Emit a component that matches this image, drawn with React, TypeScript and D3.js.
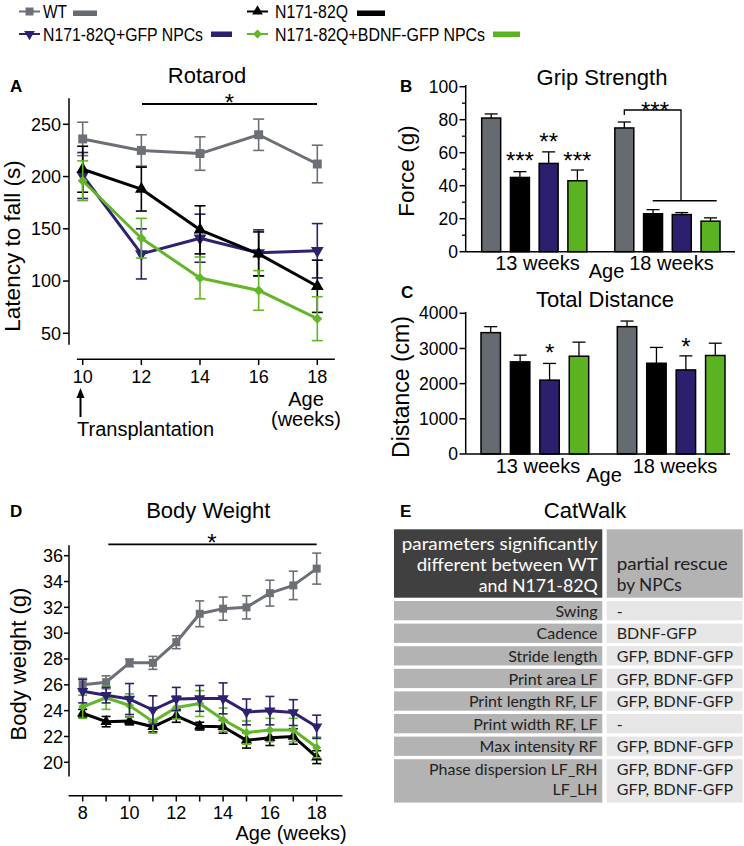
import * as d3 from 'd3';
import React from 'react';

const FONT = '"Liberation Sans", Arial, sans-serif';
const TABLE_FONT = 'Lato, "Open Sans", sans-serif';

// groups / series
const seriesNames = ['WT', 'N171-82Q', 'N171-82Q+GFP NPCs', 'N171-82Q+BDNF-GFP NPCs'];
const lineColors = ['#6c7076', '#000000', '#2d2170', '#63b52a'];
const barColors = ['#666b71', '#000000', '#2c1f6e', '#5cb321'];
const markers = ['square', 'triangle', 'triangleDown', 'diamond'];

// A - Rotarod (latency to fall, s)
const rotarodWeeks = [10, 12, 14, 16, 18];
const rotarodWT = [236, 225, 222, 240, 212];
const rotarodWTErr = [16, 15, 16, 15, 18];
const rotarodN171 = [207, 188, 149, 126, 95];
const rotarodN171Err = [22, 21, 23, 21, 25];
const rotarodGFP = [201, 126, 141, 127, 129];
const rotarodGFPErr = [22, 24, 23, 22, 26];
const rotarodBDNF = [196, 141, 103, 91, 64];
const rotarodBDNFErr = [19, 19, 20, 19, 21];
const rotarodYTicks = [50, 100, 150, 200, 250];

// B - Grip strength (g)
const ageGroups = ['13 weeks', '18 weeks'];
const gripWT = [81, 75];
const gripWTErr = [2.5, 3.6];
const gripN171 = [45, 23];
const gripN171Err = [3.5, 2.5];
const gripGFP = [53.5, 22.5];
const gripGFPErr = [7, 1.2];
const gripBDNF = [43, 18.5];
const gripBDNFErr = [6.5, 2];
const gripYTicks = [0, 20, 40, 60, 80, 100];
const gripStars13 = ['', '***', '**', '***'];

// C - Total distance (cm)
const distWT = [3450, 3620];
const distWTErr = [170, 160];
const distN171 = [2620, 2580];
const distN171Err = [190, 450];
const distGFP = [2100, 2390];
const distGFPErr = [475, 400];
const distBDNF = [2780, 2800];
const distBDNFErr = [400, 350];
const distYTicks = [0, 1000, 2000, 3000, 4000];

// D - Body weight (g)
const weightWeeks = [8, 9, 10, 11, 12, 13, 14, 15, 16, 17, 18];
const weightWT = [26.0, 26.2, 27.7, 27.7, 29.3, 31.5, 31.9, 32.0, 33.1, 33.7, 35.0];
const weightWTErr = [0.5, 0.5, 0.3, 0.5, 0.5, 1.0, 0.9, 0.9, 1.0, 1.1, 1.2];
const weightN171 = [23.8, 23.15, 23.2, 22.75, 23.6, 22.8, 22.75, 21.7, 21.9, 22.0, 20.4];
const weightN171Err = [0.3, 0.4, 0.3, 0.4, 0.5, 0.3, 0.5, 0.6, 0.6, 0.6, 0.5];
const weightGFP = [25.5, 25.2, 24.9, 24.05, 24.9, 24.95, 24.95, 23.9, 24.0, 23.85, 22.75];
const weightGFPErr = [0.9, 0.6, 1.2, 1.1, 0.9, 1.0, 1.2, 1.0, 1.1, 1.0, 0.9];
const weightBDNF = [24.3, 25.0, 24.4, 23.15, 24.25, 24.55, 23.3, 22.3, 22.5, 22.5, 21.15];
const weightBDNFErr = [0.9, 0.9, 0.9, 0.9, 0.9, 1.0, 0.9, 0.9, 0.9, 0.9, 0.8];
const weightYTicks = [20, 22, 24, 26, 28, 30, 32, 34, 36];
const weightXLabels = [8, 10, 12, 14, 16, 18];

// E - CatWalk table
const catHeaderLeft = ['parameters significantly', 'different between WT', 'and N171-82Q'];
const catHeaderRight = ['partial rescue', 'by NPCs'];
const catParams = [['Swing'], ['Cadence'], ['Stride length'], ['Print area LF'], ['Print length RF, LF'],
  ['Print width RF, LF'], ['Max intensity RF'], ['Phase dispersion LF_RH', 'LF_LH']];
const catRescue = [['-'], ['BDNF-GFP'], ['GFP, BDNF-GFP'], ['GFP, BDNF-GFP'], ['GFP, BDNF-GFP'],
  ['-'], ['GFP, BDNF-GFP'], ['GFP, BDNF-GFP', 'GFP, BDNF-GFP']];

function markerPath(m: string, size: number) {
  const type = m === 'square' || m === 'diamond' ? d3.symbolSquare : d3.symbolTriangle;
  return d3.symbol().type(type).size(size)() as string;
}
function markerRot(m: string) {
  return m === 'triangleDown' ? 180 : m === 'diamond' ? 45 : 0;
}

function Series(props: any) {
  const { xs, vals, errs, x, y, color, marker, msize, lw, cap } = props;
  const line = d3.line<number>().x((_, i) => x(xs[i])).y(d => y(d));
  return (
    <g>
      {vals.map((v: number, i: number) => {
        const cx = x(xs[i]);
        const t = y(v + errs[i]);
        const b = y(v - errs[i]);
        return (
          <g key={i} stroke={color} strokeWidth={1.6}>
            <line x1={cx} x2={cx} y1={t} y2={b} />
            <line x1={cx - cap} x2={cx + cap} y1={t} y2={t} />
            <line x1={cx - cap} x2={cx + cap} y1={b} y2={b} />
          </g>
        );
      })}
      <path d={line(vals) as string} fill="none" stroke={color} strokeWidth={lw} strokeLinejoin="round" />
      {vals.map((v: number, i: number) => (
        <path key={i} d={markerPath(marker, msize)} fill={color}
          transform={`translate(${x(xs[i])},${y(v)}) rotate(${markerRot(marker)})`} />
      ))}
    </g>
  );
}

function Bars(props: any) {
  const { x0, y, sets, errs } = props;
  const x1 = d3.scaleBand().domain(seriesNames).range([0, x0.bandwidth()]).paddingInner(0.34);
  return (
    <g>
      {ageGroups.map((g, gi) => (
        <g key={g} transform={`translate(${x0(g)},0)`}>
          {seriesNames.map((s, si) => {
            const v = sets[si][gi];
            const e = errs[si][gi];
            const bx = x1(s) as number;
            const cx = bx + x1.bandwidth() / 2;
            return (
              <g key={s}>
                <line x1={cx} x2={cx} y1={y(v)} y2={y(v + e)} stroke="#000" strokeWidth={1.3} />
                <line x1={cx - 6.5} x2={cx + 6.5} y1={y(v + e)} y2={y(v + e)} stroke="#000" strokeWidth={1.3} />
                <rect x={bx} y={y(v)} width={x1.bandwidth()} height={y(0) - y(v)}
                  fill={barColors[si]} stroke="#000" strokeWidth={1.5} />
              </g>
            );
          })}
        </g>
      ))}
    </g>
  );
}

export default function App() {
  // A scales
  const ax = d3.scaleLinear().domain([10, 18]).range([82.7, 317.3]);
  const ay = d3.scaleLinear().domain([50, 250]).range([333.3, 124.3]);
  // B scales
  const bx0 = d3.scaleBand().domain(ageGroups).range([481.7, 720]).paddingInner(0.21);
  const by = d3.scaleLinear().domain([0, 100]).range([251.7, 86.7]);
  // C scales
  const cx0 = d3.scaleBand().domain(ageGroups).range([481, 725]).paddingInner(0.21);
  const cy = d3.scaleLinear().domain([0, 4000]).range([454, 313.3]);
  // D scales
  const dx = d3.scaleLinear().domain([8, 18]).range([82.7, 316.7]);
  const dy = d3.scaleLinear().domain([20, 36]).range([762.3, 555.7]);

  const rotSets = [rotarodWT, rotarodN171, rotarodGFP, rotarodBDNF];
  const rotErrs = [rotarodWTErr, rotarodN171Err, rotarodGFPErr, rotarodBDNFErr];
  const wSets = [weightWT, weightN171, weightGFP, weightBDNF];
  const wErrs = [weightWTErr, weightN171Err, weightGFPErr, weightBDNFErr];

  const bInner = d3.scaleBand().domain(seriesNames).range([0, bx0.bandwidth()]).paddingInner(0.34);
  const bCenter = (g: string, s: string) => (bx0(g) as number) + (bInner(s) as number) + bInner.bandwidth() / 2;
  const cInner = d3.scaleBand().domain(seriesNames).range([0, cx0.bandwidth()]).paddingInner(0.34);
  const cCenter = (g: string, s: string) => (cx0(g) as number) + (cInner(s) as number) + cInner.bandwidth() / 2;

  // table rows
  const rowTop = 601;
  const rowStep = 22.6;
  let acc = rowTop;
  const rowPos = catParams.map(p => {
    const top = acc;
    const h = p.length * rowStep - 3.3 + (p.length - 1) * 1.5;
    acc += h + 3.3;
    return { top, h };
  });
  const headLeftLen = [196, 181, 119];
  const headRightLen = [111, 65];

  const legendRows = [
    { x: 19, y: 11.5, tx: 43, ty: 17.5, tl: 24, bx: 73, bw: 24, by: 10.5 },
    { x: 247, y: 11.5, tx: 275, ty: 17.5, tl: 73, bx: 357, bw: 28, by: 10.5 },
    { x: 19, y: 34, tx: 43, ty: 40.5, tl: 160, bx: 211, bw: 21, by: 31.5 },
    { x: 247, y: 34, tx: 275, ty: 40.5, tl: 210, bx: 493, bw: 27, by: 31.5 },
  ];

  return (
    <svg width={744} height={846} style={{ position: 'absolute', left: 0, top: 0, background: '#fff' }}
      fontFamily={FONT}>
      {/* legend */}
      {legendRows.map((l, i) => (
        <g key={i}>
          <line x1={l.x} x2={l.x + 21} y1={l.y} y2={l.y} stroke={lineColors[i]} strokeWidth={2} />
          <path d={markerPath(markers[i], i === 0 ? 64 : i === 3 ? 40 : 50)} fill={lineColors[i]}
            transform={`translate(${l.x + 10.5},${l.y}) rotate(${markerRot(markers[i])})`} />
          <text x={l.tx} y={l.ty} fontSize={18} textLength={l.tl} lengthAdjust="spacingAndGlyphs">{seriesNames[i]}</text>
          <rect x={l.bx} y={l.by} width={l.bw} height={5.5} fill={barColors[i]} />
        </g>
      ))}

      {/* A: Rotarod */}
      <text x={10} y={92} fontSize={17} fontWeight="bold">A</text>
      <text x={207} y={83} fontSize={22} textAnchor="middle">Rotarod</text>
      <line x1={142} x2={317} y1={104} y2={104} stroke="#000" strokeWidth={1.8} />
      <text x={229.5} y={111} fontSize={24} textAnchor="middle">*</text>
      <line x1={69} x2={69} y1={ay(275)} y2={ay(39)} stroke="#000" strokeWidth={1.5} />
      {rotarodYTicks.map(t => (
        <g key={t}>
          <line x1={63} x2={69} y1={ay(t)} y2={ay(t)} stroke="#000" strokeWidth={1.5} />
          <text x={61} y={ay(t)} dy="0.35em" fontSize={18} textAnchor="end">{t}</text>
        </g>
      ))}
      <text transform="translate(20,246) rotate(-90)" fontSize={22.5} textAnchor="middle">Latency to fall (s)</text>
      <line x1={ax(9.8)} x2={ax(18.6)} y1={359.3} y2={359.3} stroke="#000" strokeWidth={1.5} />
      {rotarodWeeks.map(w => (
        <g key={w}>
          <line x1={ax(w)} x2={ax(w)} y1={359.3} y2={365} stroke="#000" strokeWidth={1.5} />
          <text x={ax(w)} y={382.5} fontSize={18} textAnchor="middle">{w}</text>
        </g>
      ))}
      <text x={306} y={405.5} fontSize={20} textAnchor="middle">Age</text>
      <text x={306} y={426} fontSize={20} textAnchor="middle">(weeks)</text>
      <line x1={80.5} x2={80.5} y1={396} y2={417} stroke="#000" strokeWidth={2} />
      <path d="M76.5,398 L80.5,388 L84.5,398 Z" fill="#000" />
      <text x={77} y={436} fontSize={20}>Transplantation</text>
      {[0, 2, 1, 3].map(i => (
        <Series key={i} xs={rotarodWeeks} vals={rotSets[i]} errs={rotErrs[i]} x={ax} y={ay}
          color={lineColors[i]} marker={markers[i]} msize={i === 0 ? 80 : i === 3 ? 50 : 70} lw={3} cap={5.5} />
      ))}

      {/* B: Grip strength */}
      <text x={400} y={92} fontSize={17} fontWeight="bold">B</text>
      <text x={602} y={85} fontSize={22} textAnchor="middle">Grip Strength</text>
      <line x1={465.7} x2={465.7} y1={by(101)} y2={by(0)} stroke="#000" strokeWidth={1.5} />
      {d3.range(10, 100, 20).map(t => (
        <line key={t} x1={462} x2={465.7} y1={by(t)} y2={by(t)} stroke="#000" strokeWidth={1.3} />
      ))}
      {gripYTicks.map(t => (
        <g key={t}>
          <line x1={459.5} x2={465.7} y1={by(t)} y2={by(t)} stroke="#000" strokeWidth={1.5} />
          <text x={458} y={by(t)} dy="0.35em" fontSize={17.5} textAnchor="end">{t}</text>
        </g>
      ))}
      <text transform="translate(414,171) rotate(-90)" fontSize={22.5} textAnchor="middle">Force (g)</text>
      <Bars x0={bx0} y={by} sets={[gripWT, gripN171, gripGFP, gripBDNF]}
        errs={[gripWTErr, gripN171Err, gripGFPErr, gripBDNFErr]} />
      <line x1={465.7} x2={735} y1={by(0)} y2={by(0)} stroke="#000" strokeWidth={1.5} />
      {seriesNames.map((s, si) => gripStars13[si] ? (
        <text key={s} x={bCenter(ageGroups[0], s)} y={by(gripWT[0]) + (si === 2 ? 32 : 51)} fontSize={24}
          textAnchor="middle">{gripStars13[si]}</text>
      ) : null)}
      <path d={`M${bCenter(ageGroups[1], seriesNames[0])},115 V110 H681 V200.7`} fill="none" stroke="#000" strokeWidth={1.3} />
      <line x1={652.7} x2={716.7} y1={200.7} y2={200.7} stroke="#000" strokeWidth={1.5} />
      <text x={655} y={118.5} fontSize={24} textAnchor="middle">***</text>
      <text x={537.5} y={270} fontSize={20} textAnchor="middle">13 weeks</text>
      <text x={606.5} y={278.3} fontSize={20} textAnchor="middle">Age</text>
      <text x={671.5} y={270} fontSize={20} textAnchor="middle">18 weeks</text>

      {/* C: Total distance */}
      <text x={401} y={298} fontSize={17} fontWeight="bold">C</text>
      <text x={605} y={306.7} fontSize={22} textAnchor="middle">Total Distance</text>
      <line x1={465.7} x2={465.7} y1={cy(4040)} y2={cy(0)} stroke="#000" strokeWidth={1.5} />
      {distYTicks.map(t => (
        <g key={t}>
          <line x1={459.5} x2={465.7} y1={cy(t)} y2={cy(t)} stroke="#000" strokeWidth={1.5} />
          <text x={458} y={cy(t)} dy="0.35em" fontSize={17.5} textAnchor="end">{t}</text>
        </g>
      ))}
      <text transform="translate(409,387) rotate(-90)" fontSize={23} textAnchor="middle">Distance (cm)</text>
      <Bars x0={cx0} y={cy} sets={[distWT, distN171, distGFP, distBDNF]}
        errs={[distWTErr, distN171Err, distGFPErr, distBDNFErr]} />
      <line x1={465.7} x2={730} y1={cy(0)} y2={cy(0)} stroke="#000" strokeWidth={1.5} />
      <text x={cCenter(ageGroups[0], seriesNames[2])} y={361} fontSize={24} textAnchor="middle">*</text>
      <text x={cCenter(ageGroups[1], seriesNames[2])} y={354.5} fontSize={24} textAnchor="middle">*</text>
      <text x={538} y={472.7} fontSize={20} textAnchor="middle">13 weeks</text>
      <text x={604} y={481.7} fontSize={20} textAnchor="middle">Age</text>
      <text x={675} y={472.7} fontSize={20} textAnchor="middle">18 weeks</text>

      {/* D: Body weight */}
      <text x={10} y={516.7} fontSize={17} fontWeight="bold">D</text>
      <text x={208.3} y={518.3} fontSize={22} textAnchor="middle">Body Weight</text>
      <line x1={108.3} x2={316.7} y1={544.3} y2={544.3} stroke="#000" strokeWidth={1.8} />
      <text x={212} y={550.5} fontSize={24} textAnchor="middle">*</text>
      <line x1={69} x2={69} y1={dy(36.8)} y2={dy(18.9)} stroke="#000" strokeWidth={1.5} />
      {weightYTicks.map(t => (
        <g key={t}>
          <line x1={64} x2={69} y1={dy(t)} y2={dy(t)} stroke="#000" strokeWidth={1.5} />
          <text x={63} y={dy(t)} dy="0.35em" fontSize={18} textAnchor="end">{t}</text>
        </g>
      ))}
      <text transform="translate(26,664) rotate(-90)" fontSize={22} textAnchor="middle">Body weight (g)</text>
      <line x1={dx(7.4)} x2={dx(19.1)} y1={795.7} y2={795.7} stroke="#000" strokeWidth={1.5} />
      {weightWeeks.map(w => (
        <line key={w} x1={dx(w)} x2={dx(w)} y1={795.7} y2={801.5} stroke="#000" strokeWidth={1.5} />
      ))}
      {weightXLabels.map(w => (
        <text key={w} x={dx(w)} y={819.3} fontSize={18} textAnchor="middle">{w}</text>
      ))}
      <text x={346.7} y={840} fontSize={20} textAnchor="end">Age (weeks)</text>
      {[0, 1, 3, 2].map(i => (
        <Series key={i} xs={weightWeeks} vals={wSets[i]} errs={wErrs[i]} x={dx} y={dy}
          color={lineColors[i]} marker={markers[i]} msize={i === 0 ? 64 : i === 3 ? 40 : 55} lw={3} cap={4.5} />
      ))}

      {/* E: CatWalk table */}
      <text x={400} y={516.7} fontSize={17} fontWeight="bold">E</text>
      <text x={585} y={518.3} fontSize={22} textAnchor="middle">CatWalk</text>
      <g fontFamily={TABLE_FONT}>
        <rect x={394} y={529.3} width={208.3} height={68.4} fill="#404040" />
        <rect x={606.7} y={529.3} width={136} height={68.4} fill="#b3b3b3" />
        {catHeaderLeft.map((t, i) => (
          <text key={t} x={597.7} y={550 + i * 20.8} fontSize={16.5} fill="#fff" textAnchor="end"
            textLength={headLeftLen[i]} lengthAdjust="spacingAndGlyphs">{t}</text>
        ))}
        {catHeaderRight.map((t, i) => (
          <text key={t} x={616.7} y={570 + i * 20.5} fontSize={16.5} fill="#222"
            textLength={headRightLen[i]} lengthAdjust="spacingAndGlyphs">{t}</text>
        ))}
        {catParams.map((p, r) => (
          <g key={r}>
            <rect x={394} y={rowPos[r].top} width={208.3} height={rowPos[r].h} fill="#b3b3b3" />
            <rect x={606.7} y={rowPos[r].top} width={136} height={rowPos[r].h} fill="#e6e6e6" />
            {p.map((t, k) => (
              <text key={k} x={597.5} y={rowPos[r].top + 15.8 + k * 20} fontSize={16} fill="#222"
                textAnchor="end">{t}</text>
            ))}
            {catRescue[r].map((t, k) => (
              <text key={k} x={616.7} y={rowPos[r].top + 15.8 + k * 20} fontSize={16} fill="#222">{t}</text>
            ))}
          </g>
        ))}
      </g>
    </svg>
  );
}
